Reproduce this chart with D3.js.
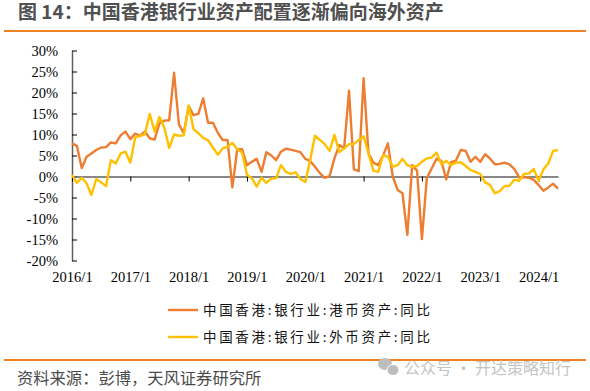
<!DOCTYPE html>
<html>
<head>
<meta charset="utf-8">
<script src="https://cdn.jsdelivr.net/npm/d3@7"></script>
<style>
  html, body { margin: 0; padding: 0; background: #fff; }
  svg { display: block; }
</style>
</head>
<body>
<div id="graph"></div>
<script>
var tickLabels = ["2016/1", "2017/1", "2018/1", "2019/1", "2020/1", "2021/1", "2022/1", "2023/1", "2024/1"];
var yTicks = [-20, -15, -10, -5, 0, 5, 10, 15, 20, 25, 30];

// monthly, 2016/1 to 2024/5
var hkdAssets = [7.9, 7.3, 2.0, 4.7, 5.5, 6.3, 6.9, 7.0, 8.1, 7.9, 9.8, 10.7,
  8.9, 10.2, 9.7, 10.7, 9.1, 8.8, 12.7, 13.3, 13.4, 24.7, 12.4, 10.3,
  16.8, 14.6, 14.9, 18.6, 12.8, 12.8, 10.4, 8.7, 8.7, -2.6, 6.5, 6.5,
  2.7, 3.5, 4.2, 1.1, 5.8, 5.0, 3.9, 5.9, 6.6, 6.4, 6.1, 5.8,
  4.2, 3.7, 2.3, 0.8, -0.3, 0.1, 4.3, 7.5, 6.7, 20.4, 1.7, 1.3,
  23.4, 5.5, 3.3, 2.7, 4.9, 7.9, 0.0, -3.2, -4.0, -13.9, 2.7, 1.4,
  -14.9, -0.4, 1.9, 4.2, 3.7, -0.7, 3.4, 3.8, 6.3, 6.1, 3.5, 4.7,
  3.5, 5.3, 4.3, 2.9, 3.0, 3.3, 2.9, 1.8, -0.2, -0.2, -0.3, -0.8,
  -2.0, -3.4, -2.6, -1.7, -2.9];
var fxAssets = [0.4, -1.5, -0.3, -1.6, -4.4, -0.6, -1.4, -2.3, 3.9, 3.1, 5.5, 5.9,
  3.3, 9.3, 9.6, 10.1, 14.9, 10.7, 14.2, 11.6, 6.8, 10.0, 9.7, 9.8,
  16.9, 11.3, 10.3, 9.2, 8.6, 6.9, 5.2, 6.7, 7.1, 8.0, 6.5, 5.7,
  0.4, -0.4, -2.4, -0.3, -1.5, -0.5, -0.4, 2.7, 1.1, 0.6, 1.0, -0.6,
  -1.3, 3.9, 9.7, 8.7, 7.7, 6.1, 9.9, 5.8, 6.7, 7.7, 7.7, 8.7,
  9.6, 5.5, 1.4, 1.1, 5.1, 4.7, 2.3, 2.7, 4.2, 2.7, 2.3, 2.5,
  3.5, 4.3, 4.5, 5.7, 2.9, 3.7, 2.7, 3.3, 3.4, 2.5, 1.5, 1.1,
  0.6, -1.4, -2.0, -4.0, -3.5, -2.3, -2.2, -0.8, -1.0, 0.6, 0.7, 1.8,
  -1.0, 1.7, 3.1, 6.1, 6.3];

var legendNames = ["中国香港:银行业:港币资产:同比", "中国香港:银行业:外币资产:同比"];
var colors = ["#ED7D31", "#FFC000"];

var width = 590;
var height = 391;
var serif = "'Liberation Serif', serif";
var cjk = "'Noto Sans CJK SC', sans-serif";

var svg = d3.select("#graph")
  .append("svg")
  .attr("width", width)
  .attr("height", height);

var xScale = d3.scaleLinear()
  .domain([0, 100])
  .range([72, 558]);
var yScale = d3.scaleLinear()
  .domain([-20, 30])
  .range([260.5, 50.5]);

// header
svg.append("text")
  .attr("x", 18)
  .attr("y", 19)
  .attr("font-family", cjk)
  .attr("font-weight", 700)
  .attr("font-size", 19)
  .attr("fill", "#505050")
  .text("图 14：中国香港银行业资产配置逐渐偏向海外资产");
svg.append("line")
  .attr("x1", 4).attr("x2", 586)
  .attr("y1", 31).attr("y2", 31)
  .attr("stroke", "#F08221")
  .attr("stroke-width", 2);

// axes
var yAxis = d3.axisLeft(yScale)
  .tickValues(yTicks)
  .tickFormat(function (d) { return d + "%"; })
  .tickSizeInner(-5)
  .tickSizeOuter(0)
  .tickPadding(14);
var xAxis = d3.axisBottom(xScale)
  .tickValues(tickLabels.map(function (d, i) { return i * 12; }))
  .tickFormat(function (d) { return tickLabels[d / 12]; })
  .tickSizeInner(5)
  .tickSizeOuter(0)
  .tickPadding(90);

var gy = svg.append("g")
  .attr("transform", "translate(72,0)")
  .call(yAxis);
var gx = svg.append("g")
  .attr("transform", "translate(0," + yScale(0) + ")")
  .call(xAxis);

[gx, gy].forEach(function (g) {
  g.attr("font-family", serif).attr("font-size", 14.5);
  g.select(".domain").attr("stroke", "#5f5f5f").attr("stroke-width", 1.5);
  g.selectAll(".tick line").attr("stroke", "#000");
  g.selectAll(".tick text").attr("fill", "#000");
});

// lines
var line = d3.line()
  .x(function (d, i) { return xScale(i); })
  .y(function (d) { return yScale(d); });

[hkdAssets, fxAssets].forEach(function (values, k) {
  svg.append("path")
    .datum(values)
    .attr("fill", "none")
    .attr("stroke", colors[k])
    .attr("stroke-width", 2.4)
    .attr("stroke-linejoin", "round")
    .attr("d", line);
});

// legend
legendNames.forEach(function (name, k) {
  var ly = 310 + k * 27;
  svg.append("line")
    .attr("x1", 168).attr("x2", 198)
    .attr("y1", ly).attr("y2", ly)
    .attr("stroke", colors[k])
    .attr("stroke-width", 2.4);
  svg.append("text")
    .attr("x", 203)
    .attr("y", ly + 5)
    .attr("font-family", cjk)
    .attr("font-size", 13.5)
    .attr("textLength", 227)
    .attr("fill", "#111")
    .text(name);
});

// footer
svg.append("line")
  .attr("x1", 4).attr("x2", 586)
  .attr("y1", 360).attr("y2", 360)
  .attr("stroke", "#F08221")
  .attr("stroke-width", 2);
svg.append("text")
  .attr("x", 17)
  .attr("y", 384)
  .attr("font-family", cjk)
  .attr("font-size", 16.3)
  .attr("fill", "#4a4a4a")
  .text("资料来源：彭博，天风证券研究所");

// watermark
var wm = svg.append("g").attr("fill", "#bdbdbd");
wm.append("ellipse").attr("cx", 385).attr("cy", 364).attr("rx", 7).attr("ry", 6);
wm.append("ellipse").attr("cx", 393).attr("cy", 370).attr("rx", 6).attr("ry", 5.5).attr("stroke", "#fff");
svg.append("text")
  .attr("x", 404)
  .attr("y", 374)
  .attr("font-family", cjk)
  .attr("font-size", 16)
  .attr("textLength", 167)
  .attr("fill", "#c4c4c4")
  .text("公众号 · 开达策略知行");
</script>
</body>
</html>
